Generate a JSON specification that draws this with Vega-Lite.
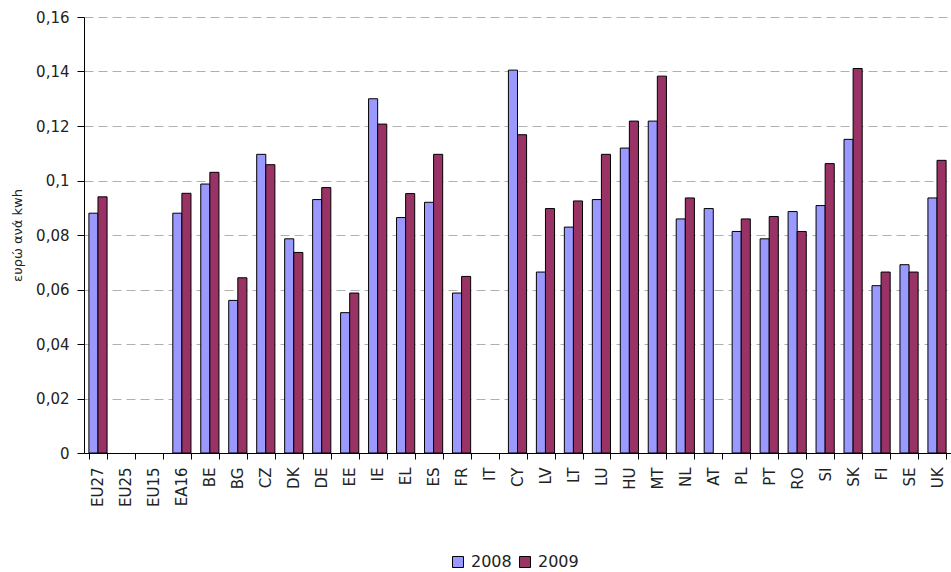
{
  "$schema": "https://vega.github.io/schema/vega-lite/v6.json",
  "autosize": {"type": "none"},
  "padding": {"left": 84, "top": 17, "right": 0, "bottom": 119},
  "width": 867,
  "height": 436,
  "background": "white",
  "config": {
    "view": {"stroke": null},
    "font": "DejaVu Sans"
  },
  "data": {
    "values": [
      {"country": "EU27", "year": "2008", "value": 0.088},
      {"country": "EU27", "year": "2009", "value": 0.094},
      {"country": "EA16", "year": "2008", "value": 0.088},
      {"country": "EA16", "year": "2009", "value": 0.0953},
      {"country": "BE", "year": "2008", "value": 0.0987},
      {"country": "BE", "year": "2009", "value": 0.103},
      {"country": "BG", "year": "2008", "value": 0.056},
      {"country": "BG", "year": "2009", "value": 0.0643},
      {"country": "CZ", "year": "2008", "value": 0.1096},
      {"country": "CZ", "year": "2009", "value": 0.1058},
      {"country": "DK", "year": "2008", "value": 0.0786},
      {"country": "DK", "year": "2009", "value": 0.0736},
      {"country": "DE", "year": "2008", "value": 0.093},
      {"country": "DE", "year": "2009", "value": 0.0974},
      {"country": "EE", "year": "2008", "value": 0.0515},
      {"country": "EE", "year": "2009", "value": 0.0587},
      {"country": "IE", "year": "2008", "value": 0.130},
      {"country": "IE", "year": "2009", "value": 0.1207},
      {"country": "EL", "year": "2008", "value": 0.0864},
      {"country": "EL", "year": "2009", "value": 0.0952},
      {"country": "ES", "year": "2008", "value": 0.092},
      {"country": "ES", "year": "2009", "value": 0.1096},
      {"country": "FR", "year": "2008", "value": 0.0587},
      {"country": "FR", "year": "2009", "value": 0.0648},
      {"country": "CY", "year": "2008", "value": 0.1405},
      {"country": "CY", "year": "2009", "value": 0.1168},
      {"country": "LV", "year": "2008", "value": 0.0664},
      {"country": "LV", "year": "2009", "value": 0.0897},
      {"country": "LT", "year": "2008", "value": 0.0829},
      {"country": "LT", "year": "2009", "value": 0.0925},
      {"country": "LU", "year": "2008", "value": 0.093},
      {"country": "LU", "year": "2009", "value": 0.1096},
      {"country": "HU", "year": "2008", "value": 0.1119},
      {"country": "HU", "year": "2009", "value": 0.1218},
      {"country": "MT", "year": "2008", "value": 0.1218},
      {"country": "MT", "year": "2009", "value": 0.1383},
      {"country": "NL", "year": "2008", "value": 0.0859},
      {"country": "NL", "year": "2009", "value": 0.0936},
      {"country": "AT", "year": "2008", "value": 0.0897},
      {"country": "PL", "year": "2008", "value": 0.0813},
      {"country": "PL", "year": "2009", "value": 0.0859},
      {"country": "PT", "year": "2008", "value": 0.0786},
      {"country": "PT", "year": "2009", "value": 0.0868},
      {"country": "RO", "year": "2008", "value": 0.0886},
      {"country": "RO", "year": "2009", "value": 0.0813},
      {"country": "SI", "year": "2008", "value": 0.0908},
      {"country": "SI", "year": "2009", "value": 0.1062},
      {"country": "SK", "year": "2008", "value": 0.1151},
      {"country": "SK", "year": "2009", "value": 0.1411},
      {"country": "FI", "year": "2008", "value": 0.0614},
      {"country": "FI", "year": "2009", "value": 0.0664},
      {"country": "SE", "year": "2008", "value": 0.0691},
      {"country": "SE", "year": "2009", "value": 0.0664},
      {"country": "UK", "year": "2008", "value": 0.0936},
      {"country": "UK", "year": "2009", "value": 0.1074}
    ]
  },
  "mark": {"type": "bar", "stroke": "black", "strokeWidth": 1},
  "encoding": {
    "x": {
      "field": "country",
      "type": "nominal",
      "scale": {
        "domain": ["EU27","EU25","EU15","EA16","BE","BG","CZ","DK","DE","EE","IE","EL","ES","FR","IT","CY","LV","LT","LU","HU","MT","NL","AT","PL","PT","RO","SI","SK","FI","SE","UK"],
        "paddingInner": 0.35,
        "paddingOuter": 0.175
      },
      "axis": {
        "title": null,
        "labelAngle": -90,
        "labelFontSize": 15,
        "labelColor": "#222",
        "labelPadding": 8,
        "tickBand": "extent",
        "tickSize": 6,
        "tickColor": "black",
        "domainColor": "black",
        "grid": false
      }
    },
    "xOffset": {"field": "year", "type": "nominal", "scale": {"paddingInner": 0, "paddingOuter": 0}},
    "y": {
      "field": "value",
      "type": "quantitative",
      "scale": {"domain": [0, 0.16], "nice": false},
      "axis": {
        "title": "ευρώ ανά kwh",
        "titleFontSize": 13,
        "titleFontWeight": "normal",
        "titleColor": "#222",
        "titlePadding": 11,
        "values": [0, 0.02, 0.04, 0.06, 0.08, 0.1, 0.12, 0.14, 0.16],
        "labelExpr": "replace(format(datum.value, '~g'), '.', ',')",
        "labelFontSize": 15,
        "labelColor": "#222",
        "labelPadding": 8,
        "tickSize": 7,
        "tickColor": "black",
        "domainColor": "black",
        "grid": true,
        "gridColor": "#b0b0b0",
        "gridDash": [9, 5],
        "gridWidth": 1
      }
    },
    "color": {
      "field": "year",
      "type": "nominal",
      "scale": {"domain": ["2008", "2009"], "range": ["#9999FF", "#993366"]},
      "legend": {
        "title": null,
        "orient": "none",
        "direction": "horizontal",
        "legendX": 366,
        "legendY": 537,
        "symbolType": "square",
        "symbolSize": 121,
        "symbolStrokeColor": "black",
        "symbolStrokeWidth": 1,
        "symbolOpacity": 1,
        "labelFontSize": 16,
        "labelColor": "#222",
        "labelOffset": 5,
        "columnPadding": 5
      }
    }
  }
}
